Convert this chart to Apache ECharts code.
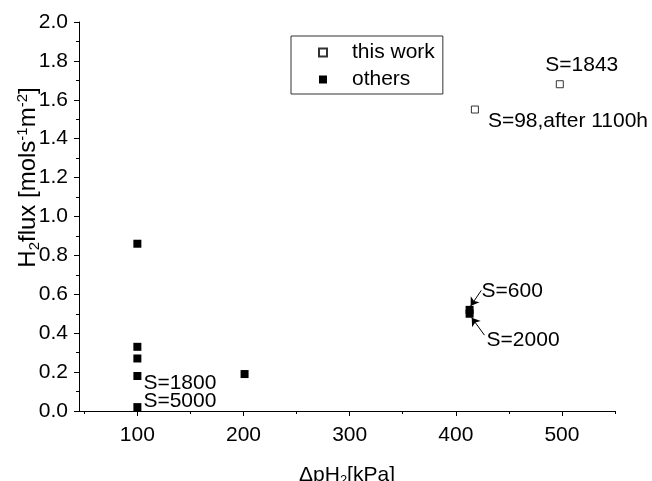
<!DOCTYPE html>
<html>
<head>
<meta charset="utf-8">
<script src="https://cdn.jsdelivr.net/npm/echarts@6/dist/echarts.min.js"></script>
<style>
  html, body { margin: 0; padding: 0; background: #fff; }
  #chart { width: 652px; height: 481px; }
</style>
</head>
<body>
<div id="chart"></div>
<script>
// data
var thisWorkX = [418, 498];
var thisWorkY = [1.55, 1.68];
var thisWorkNotes = ['S=98,after 1100h', 'S=1843'];

var othersX = [100, 100, 100, 100, 100, 201, 413, 413];
var othersY = [0.86, 0.33, 0.27, 0.18, 0.02, 0.19, 0.52, 0.50];
var othersNotes = ['', '', '', 'S=1800', 'S=5000', '', 'S=600', 'S=2000'];

var xTicks = [100, 200, 300, 400, 500];
var xMinorTicks = [50, 150, 250, 350, 450, 550];

var FONT = 'Liberation Sans, Arial, sans-serif';
var FS = 21;

// where each note sits next to its point
var notePlace = {
    'S=98,after 1100h': { position: 'right', offset: [4, 12] },
    'S=1843': { position: 'top', offset: [22, 0] },
    'S=1800': { position: 'right', offset: [-3, 7] },
    'S=5000': { position: 'right', offset: [-3, -6] },
    'S=600': { position: 'right', offset: [3, -19] },
    'S=2000': { position: 'right', offset: [8, 26] }
};

function buildData(xs, ys, notes) {
    var out = [];
    for (var i = 0; i < xs.length; i++) {
        var item = { value: [xs[i], ys[i]] };
        if (notes[i]) {
            var p = notePlace[notes[i]];
            item.label = {
                show: true,
                formatter: notes[i],
                position: p.position,
                offset: p.offset,
                color: '#000',
                fontSize: FS,
                fontFamily: FONT
            };
        }
        out.push(item);
    }
    return out;
}

var chart = echarts.init(document.getElementById('chart'));

var option = {
    backgroundColor: '#fff',
    animation: false,
    textStyle: { fontFamily: FONT },
    grid: { left: 79, right: 37, top: 22, bottom: 70, containLabel: false, outerBoundsMode: 'none' },
    legend: {
        orient: 'vertical',
        left: 291,
        top: 36,
        padding: [6, 8, 4, 27],
        itemGap: 6,
        itemWidth: 8,
        itemHeight: 8,
        borderColor: '#333',
        borderWidth: 1,
        borderRadius: 0,
        textStyle: { fontSize: FS, color: '#000', fontFamily: FONT, padding: [0, 0, 0, 20] },
        data: ['this work', 'others']
    },
    xAxis: [{
        type: 'value',
        min: 45,
        max: 550,
        name: '{a|ΔpH}{sub|2}{a|[kPa]}',
        nameLocation: 'middle',
        nameGap: 52,
        nameMoveOverlap: false,
        nameTextStyle: {
            rich: {
                a: { fontSize: FS, color: '#000', fontFamily: FONT },
                sub: { fontSize: 13, color: '#000', fontFamily: FONT, padding: [11, 0, 0, 0] }
            }
        },
        splitLine: { show: false },
        axisLine: { lineStyle: { color: '#000', width: 1 } },
        axisTick: { inside: false, length: 5, customValues: xTicks, lineStyle: { color: '#000' } },
        axisLabel: { customValues: xTicks, fontSize: FS, color: '#000', margin: 14, fontFamily: FONT }
    }, {
        type: 'value',
        min: 45,
        max: 550,
        position: 'bottom',
        axisLine: { show: false },
        splitLine: { show: false },
        axisLabel: { show: false },
        axisTick: { length: 3, customValues: xMinorTicks, lineStyle: { color: '#000' } }
    }],
    yAxis: {
        type: 'value',
        min: 0,
        max: 2,
        interval: 0.2,
        name: '{a|H}{sub|2}{a|flux [mols}{sup|-1}{a|m}{sup|-2}{a|]}',
        nameLocation: 'middle',
        nameGap: 37,
        nameRotate: 90,
        nameMoveOverlap: false,
        nameTextStyle: {
            padding: [0, 0, 0, 78],
            rich: {
                a: { fontSize: 24, color: '#000', fontFamily: FONT },
                sub: { fontSize: 15, color: '#000', fontFamily: FONT, padding: [12, 0, 0, 0] },
                sup: { fontSize: 15, color: '#000', fontFamily: FONT, padding: [0, 0, 12, 0] }
            }
        },
        splitLine: { show: false },
        axisLine: { show: true, lineStyle: { color: '#000', width: 1 } },
        axisTick: { inside: false, length: 5, lineStyle: { color: '#000' } },
        minorTick: { show: true, splitNumber: 2, length: 3, lineStyle: { color: '#000' } },
        minorSplitLine: { show: false },
        axisLabel: {
            fontSize: FS,
            color: '#000',
            margin: 11,
            fontFamily: FONT,
            formatter: function (v) { return v.toFixed(1); }
        }
    },
    series: [{
        name: 'this work',
        type: 'scatter',
        symbol: 'rect',
        symbolSize: 7,
        itemStyle: { color: '#fff', borderColor: '#333', borderWidth: 1, opacity: 1 },
        data: buildData(thisWorkX, thisWorkY, thisWorkNotes)
    }, {
        name: 'others',
        type: 'scatter',
        symbol: 'rect',
        symbolSize: 8,
        itemStyle: { color: '#000', opacity: 1 },
        data: buildData(othersX, othersY, othersNotes),
        markLine: {
            silent: true,
            symbol: ['none', 'arrow'],
            symbolSize: 8,
            label: { show: false },
            lineStyle: { color: '#000', width: 1, type: 'solid' },
            data: [
                [{ coord: [424, 0.62] }, { coord: [414, 0.54] }],
                [{ coord: [427, 0.39] }, { coord: [415, 0.48] }]
            ]
        }
    }]
};

chart.setOption(option);
</script>
</body>
</html>
